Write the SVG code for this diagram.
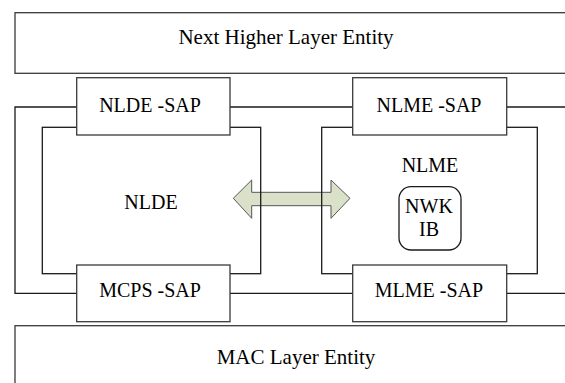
<svg xmlns="http://www.w3.org/2000/svg" width="565" height="383" viewBox="0 0 565 383">
<style>
.box{fill:none;stroke:#3a3a3a;stroke-width:1.3}
.sap{fill:#fff;stroke:#3a3a3a;stroke-width:1.3}
.ln{fill:none;stroke:#1a1a1a;stroke-width:1.3}
text{font-family:'Liberation Serif','DejaVu Serif',serif;fill:#000;text-anchor:middle}
.s20{font-size:20px}
.s21{font-size:21px}
</style>
<rect width="565" height="383" fill="#fff"/>
<g id="next-higher-layer">
<rect class="box" x="15" y="12.7" width="560" height="60.6"/>
<text class="s21" x="286" y="44.3" font-family="Liberation Serif, serif">Next Higher Layer Entity</text>
</g>
<g id="mac-layer">
<rect class="box" x="15" y="325.7" width="560" height="70"/>
<text class="s21" x="296" y="364" font-family="Liberation Serif, serif">MAC Layer Entity</text>
</g>
<g id="arrow">
<polygon points="233.3,198.3 251.7,180 251.7,192.3 331,192.3 331,180 350,198.3 331,218.3 331,205.7 251.7,205.7 251.7,218.3" fill="#d9e1c9" stroke="#555" stroke-width="1"/>
</g>
<g id="connectors">
<polyline class="ln" points="76.7,107 15,107 15,293.3 76.7,293.3"/>
<line class="ln" x1="230" y1="107" x2="352" y2="107"/>
<line class="ln" x1="230" y1="293.3" x2="352" y2="293.3"/>
<line class="ln" x1="506.7" y1="107" x2="566" y2="107"/>
<line class="ln" x1="506.7" y1="293.3" x2="566" y2="293.3"/>
</g>
<g id="nlde">
<rect class="ln" x="42.3" y="127.3" width="218.4" height="146.4"/>
<text class="s20" x="151" y="209.3" font-family="Liberation Serif, serif">NLDE</text>
</g>
<g id="nlme">
<rect class="ln" x="321.7" y="127.3" width="215.6" height="146.4"/>
<text class="s20" x="430" y="171.7" font-family="Liberation Serif, serif">NLME</text>
</g>
<g id="nwk-ib">
<rect class="ln" x="399" y="186.7" width="62" height="63.3" rx="12" ry="12"/>
<text class="s20" x="429" y="213.3" font-family="Liberation Serif, serif">NWK</text>
<text class="s20" x="429" y="236" font-family="Liberation Serif, serif">IB</text>
</g>
<g id="nlde-sap">
<rect class="sap" x="76.7" y="77.7" width="153.3" height="57.3"/>
<text class="s20" x="150" y="112.3" font-family="Liberation Serif, serif">NLDE -SAP</text>
</g>
<g id="nlme-sap">
<rect class="sap" x="352.7" y="77.7" width="154" height="57.3"/>
<text class="s20" x="429" y="112.3" font-family="Liberation Serif, serif">NLME -SAP</text>
</g>
<g id="mcps-sap">
<rect class="sap" x="76.7" y="265" width="153.3" height="56.7"/>
<text class="s20" x="150" y="297.3" font-family="Liberation Serif, serif">MCPS -SAP</text>
</g>
<g id="mlme-sap">
<rect class="sap" x="352.7" y="265" width="154" height="56.7"/>
<text class="s20" x="429" y="297.3" font-family="Liberation Serif, serif">MLME -SAP</text>
</g>
</svg>
